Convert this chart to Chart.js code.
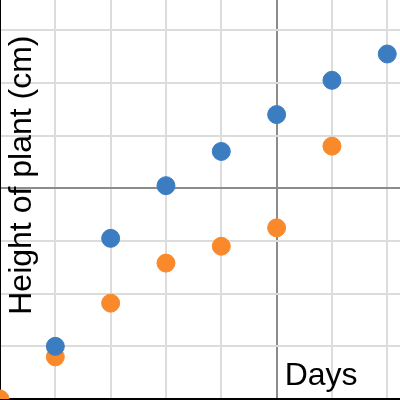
<!DOCTYPE html>
<html lang="en">
<head>
  <meta charset="UTF-8">
  <title>Plant Height</title>
  <script src="https://cdn.jsdelivr.net/npm/chart.js"></script>
  <style>
    html, body {
      margin: 0;
      padding: 0;
      background: #fff;
    }
    .wrap {
      width: 400px;
      height: 400px;
    }
  </style>
</head>
<body>
  <div class="wrap">
    <canvas id="plantChart" width="400" height="400"></canvas>
  </div>

  <script>
    // data
    const days = [0, 1, 2, 3, 4, 5, 6, 7];
    const plantA = [null, 1.0, 3.05, 4.05, 4.7, 5.4, 6.05, 6.55];
    const plantB = [0, 0.8, 1.82, 2.58, 2.9, 3.25, 4.8, null];
    const xTitle = 'Days';
    const yTitle = 'Height of plant (cm)';

    function toPoints(xs, ys) {
      const pts = [];
      xs.forEach(function(x, i) {
        if (ys[i] !== null) pts.push({ x: x, y: ys[i] });
      });
      return pts;
    }

    // axis titles sit inside the plot area in the reference
    const titlesPlugin = {
      id: 'insideTitles',
      afterDatasetsDraw: function(chart) {
        const c = chart.ctx;
        const xs = chart.scales.x;
        const ys = chart.scales.y;
        c.save();
        c.fillStyle = '#000';
        c.font = '32px "Liberation Sans", Arial, sans-serif';
        c.textBaseline = 'alphabetic';
        c.textAlign = 'left';
        c.fillText(xTitle, xs.getPixelForValue(5) + 8, chart.chartArea.bottom - 14);
        c.translate(31, ys.getPixelForValue(4.25));
        c.rotate(-Math.PI / 2);
        c.textAlign = 'center';
        c.fillText(yTitle, 0, 0);
        c.restore();
      }
    };

    function gridColor(mark) {
      return function(ctx) {
        return ctx.tick && ctx.tick.value === mark ? '#8c8c8c' : '#dcdcdc';
      };
    }

    document.addEventListener('DOMContentLoaded', function() {
      const ctx = document.getElementById('plantChart').getContext('2d');

      new Chart(ctx, {
        type: 'scatter',
        data: {
          datasets: [{
            label: 'Plant A',
            data: toPoints(days, plantA),
            backgroundColor: '#3b7dc0',
            borderColor: '#3b7dc0',
            pointRadius: 9,
            pointHoverRadius: 9
          }, {
            label: 'Plant B',
            data: toPoints(days, plantB),
            backgroundColor: '#fa892b',
            borderColor: '#fa892b',
            pointRadius: 9,
            pointHoverRadius: 9
          }]
        },
        options: {
          responsive: false,
          animation: false,
          layout: {
            autoPadding: false,
            padding: { left: 0, right: 0, top: 0, bottom: 1 }
          },
          plugins: {
            legend: { display: false },
            tooltip: { enabled: false }
          },
          scales: {
            x: {
              type: 'linear',
              min: 0,
              max: 7.23,
              ticks: { display: false, stepSize: 1, includeBounds: false },
              grid: { color: gridColor(5), lineWidth: 2, drawTicks: false },
              border: { color: '#000', width: 3 }
            },
            y: {
              type: 'linear',
              min: 0,
              max: 7.575,
              ticks: { display: false, stepSize: 1, includeBounds: false },
              grid: { color: gridColor(4), lineWidth: 2, drawTicks: false },
              border: { color: '#000', width: 2 }
            }
          }
        },
        plugins: [titlesPlugin]
      });
    });
  </script>
</body>
</html>
